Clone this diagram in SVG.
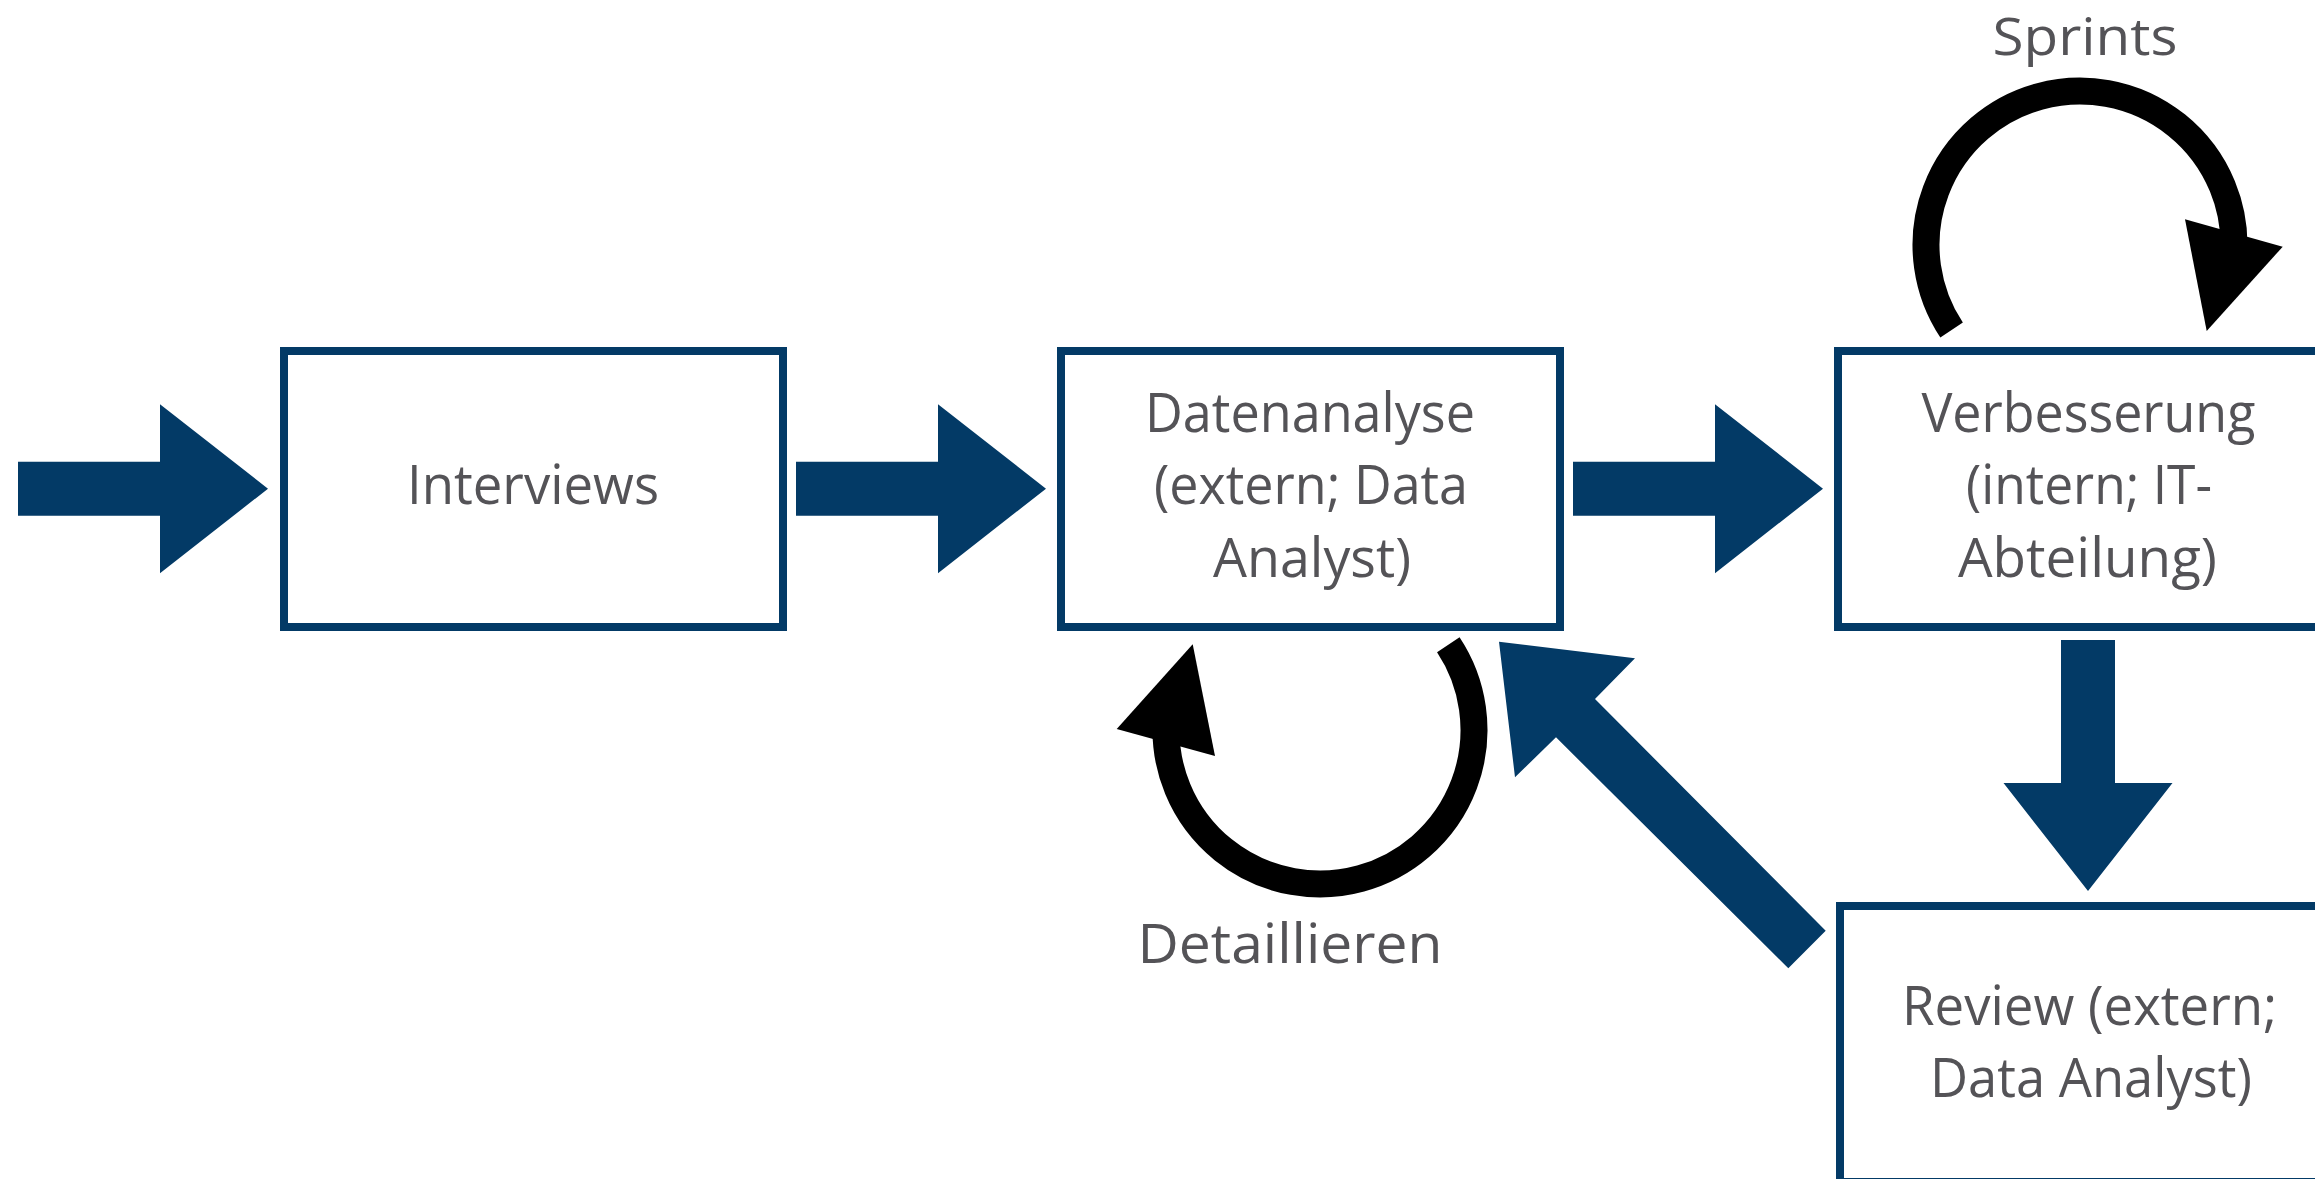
<svg xmlns="http://www.w3.org/2000/svg" width="2315" height="1179" viewBox="0 0 2315 1179">
  <style>
    .box { fill: #ffffff; stroke: #033a66; stroke-width: 8; }
    .flow { fill: #033a66; stroke: none; }
    .loop { fill: none; stroke: #000000; stroke-width: 27; stroke-linecap: butt; }
    .head { fill: #000000; stroke: none; }
    .label { font-family: "Open Sans", "Noto Sans", "Liberation Sans", sans-serif; font-size: 54px; fill: #545357; text-anchor: middle; }
  </style>
  <rect x="0" y="0" width="2315" height="1179" fill="#ffffff"/>

  <!-- process steps -->
  <g id="node-interviews">
    <rect class="box" x="284" y="351" width="499" height="276"/>
    <text class="label" x="533" y="504" textLength="252" lengthAdjust="spacingAndGlyphs">Interviews</text>
  </g>
  <g id="node-datenanalyse">
    <rect class="box" x="1061" y="351" width="499" height="276"/>
    <text class="label" x="1310" y="431.7" textLength="330" lengthAdjust="spacingAndGlyphs">Datenanalyse</text>
    <text class="label" x="1311" y="504" textLength="314" lengthAdjust="spacingAndGlyphs">(extern; Data</text>
    <text class="label" x="1312" y="576.7" textLength="198" lengthAdjust="spacingAndGlyphs">Analyst)</text>
  </g>
  <g id="node-verbesserung">
    <rect class="box" x="1838" y="351" width="499" height="276"/>
    <text class="label" x="2088.4" y="431.7" textLength="334" lengthAdjust="spacingAndGlyphs">Verbesserung</text>
    <text class="label" x="2089" y="504" textLength="246" lengthAdjust="spacingAndGlyphs">(intern; IT-</text>
    <text class="label" x="2087.5" y="576.7" textLength="259" lengthAdjust="spacingAndGlyphs">Abteilung)</text>
  </g>
  <g id="node-review">
    <rect class="box" x="1840" y="906" width="499" height="276"/>
    <text class="label" x="2089.5" y="1025" textLength="375" lengthAdjust="spacingAndGlyphs">Review (extern;</text>
    <text class="label" x="2091" y="1097.3" textLength="322" lengthAdjust="spacingAndGlyphs">Data Analyst)</text>
  </g>

  <!-- connectors -->
  <g id="connectors">
    <path class="flow" d="M18,461.7 H160 V404.2 L268,488.7 L160,573.2 V515.7 H18 Z"/>
    <path class="flow" d="M796,461.7 H938 V404.2 L1046,488.7 L938,573.2 V515.7 H796 Z"/>
    <path class="flow" d="M1573,461.7 H1715 V404.2 L1823,488.7 L1715,573.2 V515.7 H1573 Z"/>
    <path class="flow" d="M2061,640 H2115 V783 H2172.5 L2088,891 L2003.5,783 H2061 Z"/>
    <path class="flow" d="M1825.7,930.7 L1595,699 L1635,658.3 L1499,641.7 L1515,777.3 L1556,737.3 L1788.3,968.3 Z"/>

    <!-- iteration loop under the analysis step -->
    <g id="loop-detaillieren">
      <path class="loop" d="M1448.3,644.8 A154,154 0 1 1 1166.2,721.9"/>
      <polygon class="head" points="1192.7,644.3 1116.7,729 1215,756"/>
      <text class="label" x="1290" y="963.3" textLength="305" lengthAdjust="spacingAndGlyphs">Detaillieren</text>
    </g>

    <!-- iteration loop above the improvement step -->
    <g id="loop-sprints">
      <path class="loop" d="M1951.6,330 A154,154 0 1 1 2233.8,253.1"/>
      <polygon class="head" points="2206.7,331 2185,219.3 2282.7,246.7"/>
      <text class="label" x="2085" y="55" font-size="51" textLength="185" lengthAdjust="spacingAndGlyphs" style="font-size:51px">Sprints</text>
    </g>
  </g>
</svg>
